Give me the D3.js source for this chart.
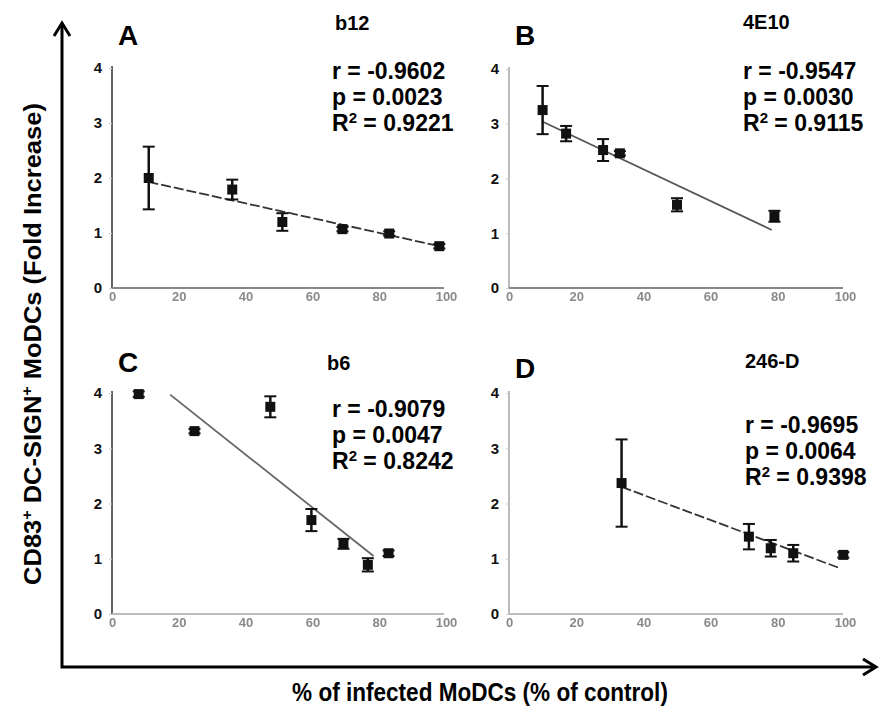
<!DOCTYPE html>
<html><head><meta charset="utf-8">
<script src="https://cdn.jsdelivr.net/npm/d3@7"></script>
<style>body{margin:0;background:#fff}svg{display:block}</style>
</head><body>
<svg id="chart" width="880" height="713"></svg>
<script>
// ---- data ----
const xTicks = [0, 20, 40, 60, 80, 100];
const yTicks = [0, 1, 2, 3, 4];

const panelLetters = ["A", "B", "C", "D"];
const panelTitles = ["b12", "4E10", "b6", "246-D"];
const statR = ["-0.9602", "-0.9547", "-0.9079", "-0.9695"];
const statP = ["0.0023", "0.0030", "0.0047", "0.0064"];
const statR2 = ["0.9221", "0.9115", "0.8242", "0.9398"];

const xA = [11, 36, 51, 69, 83, 98];
const yA = [2.0, 1.79, 1.2, 1.07, 0.99, 0.76];
const eA = [0.57, 0.18, 0.16, 0.04, 0.04, 0.04];
const fitA = [[10.9, 1.93], [98.8, 0.75]];

const xB = [10, 17, 28, 33, 50, 79];
const yB = [3.25, 2.82, 2.52, 2.46, 1.52, 1.31];
const eB = [0.44, 0.14, 0.2, 0.04, 0.12, 0.1];
const fitB = [[9.9, 3.04], [78.2, 1.06]];

const xC = [8, 24.7, 47.4, 59.7, 69.3, 76.6, 82.8];
const yC = [3.98, 3.31, 3.75, 1.70, 1.27, 0.89, 1.10];
const eC = [0.05, 0.04, 0.19, 0.2, 0.09, 0.12, 0.05];
const fitC = [[17.4, 3.97], [78.3, 1.05]];

const xD = [33.5, 71.4, 77.9, 84.6, 99.5];
const yD = [2.37, 1.40, 1.19, 1.10, 1.07];
const eD = [0.79, 0.23, 0.15, 0.15, 0.05];
const fitD = [[33.5, 2.30], [98, 0.84]];

const seriesX = [xA, xB, xC, xD];
const seriesY = [yA, yB, yC, yD];
const seriesE = [eA, eB, eC, eD];
const fits = [fitA, fitB, fitC, fitD];

// ---- layout / style ----
const layout = [
  {x0:112, x1:446, y0:288, y1:68,  letter:[118,45], title:[335,30], stats:[332,79], yAxisCol:"#666", xAxisCol:"#888", fitDash:"10,3", fitCol:"#333"},
  {x0:509, x1:845, y0:288, y1:69,  letter:[515,45], title:[743,29], stats:[743,79], yAxisCol:"#bbb", xAxisCol:"#888", fitDash:null, fitCol:"#555"},
  {x0:112, x1:446, y0:614, y1:393, letter:[118,372], title:[327,370], stats:[332,417], yAxisCol:"#666", xAxisCol:"#bbb", fitDash:null, fitCol:"#666"},
  {x0:509, x1:845, y0:614, y1:393, letter:[515,378], title:[745,368], stats:[745,433], yAxisCol:"#bbb", xAxisCol:"#bbb", fitDash:"10,3", fitCol:"#333"}
];
const FONT = "'Liberation Sans', Arial, Helvetica, sans-serif";

const svg = d3.select("#chart");
const defs = svg.append("defs");
defs.append("filter").attr("id", "soft").append("feGaussianBlur").attr("stdDeviation", 0.5);

layout.forEach((L, i) => {
  const x = d3.scaleLinear().domain([0, 100]).range([L.x0, L.x1]);
  const y = d3.scaleLinear().domain([0, 4]).range([L.y0, L.y1]);
  const g = svg.append("g");

  // axes lines
  g.append("line").attr("x1", x(0)).attr("x2", x(0)).attr("y1", y(4) - 2).attr("y2", y(0))
    .attr("stroke", L.yAxisCol).attr("stroke-width", 2);
  g.append("line").attr("x1", x(0)).attr("x2", x(100) - 2).attr("y1", y(0)).attr("y2", y(0))
    .attr("stroke", L.xAxisCol).attr("stroke-width", 2);

  // y ticks
  const yAx = d3.axisLeft(y).tickValues(yTicks).tickSize(3).tickFormat(d3.format("d"));
  const ya = g.append("g").attr("transform", `translate(${x(0)},0)`).call(yAx);
  ya.select(".domain").remove();
  ya.selectAll("line").attr("stroke", "#ccc");
  ya.selectAll("text").attr("font-family", FONT).attr("font-weight", "bold")
    .attr("font-size", 15).attr("fill", "#111").attr("x", -10);

  // x ticks
  const xAx = d3.axisBottom(x).tickValues(xTicks).tickSize(0).tickFormat(d3.format("d"));
  const xa = g.append("g").attr("transform", `translate(0,${y(0)})`).call(xAx);
  xa.select(".domain").remove();
  xa.selectAll("text").attr("font-family", FONT).attr("font-weight", "bold")
    .attr("font-size", 13).attr("fill", "#8a8a8a").attr("y", 4).attr("filter", "url(#soft)");

  // fit line
  const f = fits[i];
  g.append("line").attr("x1", x(f[0][0])).attr("y1", y(f[0][1]))
    .attr("x2", x(f[1][0])).attr("y2", y(f[1][1]))
    .attr("stroke", L.fitCol).attr("stroke-width", 1.8)
    .attr("stroke-dasharray", L.fitDash);

  // error bars and markers
  const xs = seriesX[i], ys = seriesY[i], es = seriesE[i];
  xs.forEach((xv, j) => {
    const cx = x(xv), top = y(ys[j] + es[j]), bot = y(ys[j] - es[j]);
    g.append("line").attr("x1", cx).attr("x2", cx).attr("y1", top).attr("y2", bot)
      .attr("stroke", "#111").attr("stroke-width", 2.5);
    [top, bot].forEach(yy => g.append("line").attr("x1", cx - 6).attr("x2", cx + 6)
      .attr("y1", yy).attr("y2", yy).attr("stroke", "#111").attr("stroke-width", 2));
    g.append("rect").attr("x", cx - 5).attr("y", y(ys[j]) - 5).attr("width", 10).attr("height", 10)
      .attr("fill", "#111");
  });

  // letter and title
  g.append("text").attr("x", L.letter[0]).attr("y", L.letter[1]).text(panelLetters[i])
    .attr("font-family", FONT).attr("font-weight", "bold").attr("font-size", 28).attr("fill", "#000");
  g.append("text").attr("x", L.title[0]).attr("y", L.title[1]).text(panelTitles[i])
    .attr("font-family", FONT).attr("font-weight", "bold").attr("font-size", 20).attr("fill", "#000");

  // stats
  const st = g.append("g").attr("font-family", FONT).attr("font-weight", "bold")
    .attr("font-size", 23).attr("fill", "#000");
  st.append("text").attr("x", L.stats[0]).attr("y", L.stats[1]).text(`r = ${statR[i]}`);
  st.append("text").attr("x", L.stats[0]).attr("y", L.stats[1] + 26).text(`p = ${statP[i]}`);
  const t3 = st.append("text").attr("x", L.stats[0]).attr("y", L.stats[1] + 52);
  t3.append("tspan").text("R");
  t3.append("tspan").text("2").attr("font-size", 15).attr("dy", -8);
  t3.append("tspan").text(` = ${statR2[i]}`).attr("dy", 8);
});

// big frame arrows
svg.append("path").attr("d", "M62,24 V667 H875").attr("fill", "none")
  .attr("stroke", "#000").attr("stroke-width", 3);
svg.append("path").attr("d", "M54,36 L62,23 L70,36").attr("fill", "none")
  .attr("stroke", "#000").attr("stroke-width", 3).attr("stroke-linejoin", "miter");
svg.append("path").attr("d", "M863,659 L876,667 L863,675").attr("fill", "none")
  .attr("stroke", "#000").attr("stroke-width", 3).attr("stroke-linejoin", "miter");

// axis titles (condensed by horizontal scaling to match the narrow face)
function condensed(sel, target) {
  const len = sel.node().getComputedTextLength();
  return target / len;
}
const ylG = svg.append("g");
const yl = ylG.append("text").attr("text-anchor", "middle").attr("font-family", FONT)
  .attr("font-weight", "bold").attr("font-size", 24).attr("fill", "#000");
yl.append("tspan").text("CD83");
yl.append("tspan").text("+").attr("font-size", 15).attr("dy", -9);
yl.append("tspan").text(" DC-SIGN").attr("dy", 9);
yl.append("tspan").text("+").attr("font-size", 15).attr("dy", -9);
yl.append("tspan").text(" MoDCs (Fold Increase)").attr("dy", 9);
const syl = condensed(yl, 482);
ylG.attr("transform", `translate(41,344) rotate(-90) scale(${syl},1)`);

const xlG = svg.append("g");
const xl = xlG.append("text").attr("text-anchor", "middle").attr("font-family", FONT)
  .attr("font-weight", "bold").attr("font-size", 25).attr("fill", "#000")
  .text("% of infected MoDCs (% of control)");
const sxl = condensed(xl, 376);
xlG.attr("transform", `translate(480,701) scale(${sxl},1)`);
</script>
</body></html>
